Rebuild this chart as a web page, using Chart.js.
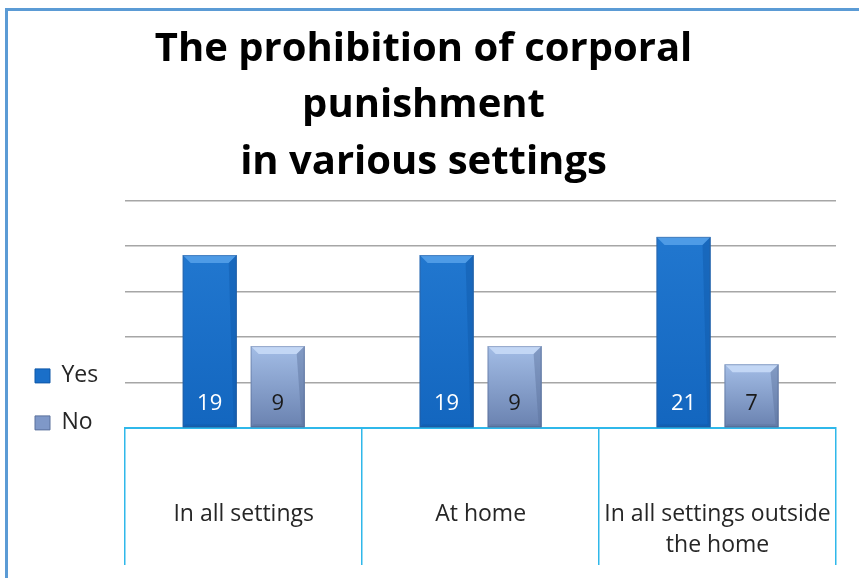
<!DOCTYPE html>
<html>
<head>
<meta charset="utf-8">
<script src="https://cdn.jsdelivr.net/npm/chart.js@4/dist/chart.umd.min.js"></script>
<style>
  html, body { margin: 0; padding: 0; background: #fff; overflow: hidden; }
  #frame { position: absolute; left: 5px; top: 8px; width: 900px; height: 600px;
           border-left: 3px solid #5b9bd5; border-top: 3px solid #5b9bd5; }
  #wrap { position: absolute; left: 0; top: 0; width: 859px; height: 578px; }
</style>
</head>
<body>
<div id="frame"></div>
<div id="wrap"><canvas id="chart"></canvas></div>
<script>
const titleLines = ["The prohibition of corporal", "punishment", "in various settings"];
const categories = ["In all settings", "At home", ["In all settings outside", "the home"]];
const yesValues = [19, 19, 21];
const noValues = [9, 9, 7];
const yTicks = { min: 0, max: 25, step: 5 };

const FONT = "'Open Sans', sans-serif";

// face / bevel shades per dataset
const shades = [
  { top: "#2177cf", bottom: "#1366bf", bevel: "#4e9be6", side: "#0f58a8", text: "#ffffff" },
  { top: "#a3bde6", bottom: "#6a82b0", bevel: "#c3d7f5", side: "#5a709c", text: "#1a1a1a" }
];

const bevelPlugin = {
  id: "bevelBars",
  afterDatasetsDraw(chart) {
    const ctx = chart.ctx;
    chart.data.datasets.forEach((ds, i) => {
      const meta = chart.getDatasetMeta(i);
      const s = shades[i];
      meta.data.forEach((bar, j) => {
        const left = bar.x - bar.width / 2;
        const right = bar.x + bar.width / 2;
        const top = bar.y;
        const bottom = bar.base;
        const b = 8;
        ctx.save();
        const g = ctx.createLinearGradient(0, top, 0, bottom);
        g.addColorStop(0, s.top);
        g.addColorStop(1, s.bottom);
        ctx.fillStyle = g;
        ctx.fillRect(left, top, right - left, bottom - top);
        // top bevel
        ctx.fillStyle = s.bevel;
        ctx.beginPath();
        ctx.moveTo(left, top);
        ctx.lineTo(right, top);
        ctx.lineTo(right - b, top + b);
        ctx.lineTo(left + b, top + b);
        ctx.closePath();
        ctx.fill();
        // right and bottom edges
        ctx.globalAlpha = 0.45;
        ctx.fillStyle = s.side;
        ctx.beginPath();
        ctx.moveTo(right, top);
        ctx.lineTo(right, bottom);
        ctx.lineTo(right - 3, bottom - 3);
        ctx.lineTo(right - b, top + b);
        ctx.closePath();
        ctx.fill();
        ctx.beginPath();
        ctx.moveTo(left, bottom);
        ctx.lineTo(right, bottom);
        ctx.lineTo(right - 3, bottom - 3);
        ctx.lineTo(left + 3, bottom - 3);
        ctx.closePath();
        ctx.fill();
        ctx.globalAlpha = 1;
        ctx.strokeStyle = "rgba(60,80,120,0.35)";
        ctx.lineWidth = 1;
        ctx.strokeRect(left + 0.5, top + 0.5, right - left - 1, bottom - top - 1);
        // value label
        ctx.fillStyle = s.text;
        ctx.font = "22px " + FONT;
        ctx.textAlign = "center";
        ctx.textBaseline = "middle";
        ctx.fillText(String(ds.data[j]), bar.x, bottom - 24);
        ctx.restore();
      });
    });
  }
};

new Chart(document.getElementById("chart"), {
  type: "bar",
  data: {
    labels: categories,
    datasets: [
      { label: "Yes", data: yesValues, backgroundColor: "#1a6fc9", borderColor: "#0f58a8", borderWidth: 1,
        categoryPercentage: 0.574, barPercentage: 0.794 },
      { label: "No", data: noValues, backgroundColor: "#7f98c8", borderColor: "#5a709c", borderWidth: 1,
        categoryPercentage: 0.574, barPercentage: 0.794 }
    ]
  },
  options: {
    responsive: true,
    maintainAspectRatio: false,
    animation: false,
    layout: { padding: { left: 11, right: 23, top: 8, bottom: 10 } },
    plugins: {
      title: {
        display: true,
        text: titleLines,
        color: "#000",
        font: { family: FONT, size: 40, weight: "bold", lineHeight: "56.5px" },
        padding: { top: 13, bottom: 10 }
      },
      legend: {
        position: "left",
        align: "start",
        title: { display: true, text: "", padding: { top: 318, bottom: 0 } },
        labels: {
          color: "#262626",
          font: { family: FONT, size: 23 },
          boxWidth: 15,
          boxHeight: 14,
          padding: 24
        }
      },
      tooltip: { enabled: false }
    },
    scales: {
      x: {
        afterFit: (scale) => { scale.height = 140; },
        grid: {
          offset: true,
          drawOnChartArea: false,
          drawTicks: true,
          tickLength: 137,
          color: "#2fb8ea",
          lineWidth: 1.5
        },
        border: { display: true, color: "#2fb8ea", width: 2 },
        ticks: {
          color: "#262626",
          font: { family: FONT, size: 23, lineHeight: "31px" },
          padding: -66,
          maxRotation: 0,
          autoSkip: false
        }
      },
      y: {
        min: yTicks.min,
        max: yTicks.max,
        afterFit: (scale) => { scale.width = 17; },
        grid: {
          drawTicks: false,
          color: (c) => (c.tick && c.tick.value === 0 ? "rgba(0,0,0,0)" : "#a6a6a6"),
          lineWidth: 1.5
        },
        border: { display: false },
        ticks: { display: false, stepSize: yTicks.step }
      }
    }
  },
  plugins: [bevelPlugin]
});
</script>
</body>
</html>
